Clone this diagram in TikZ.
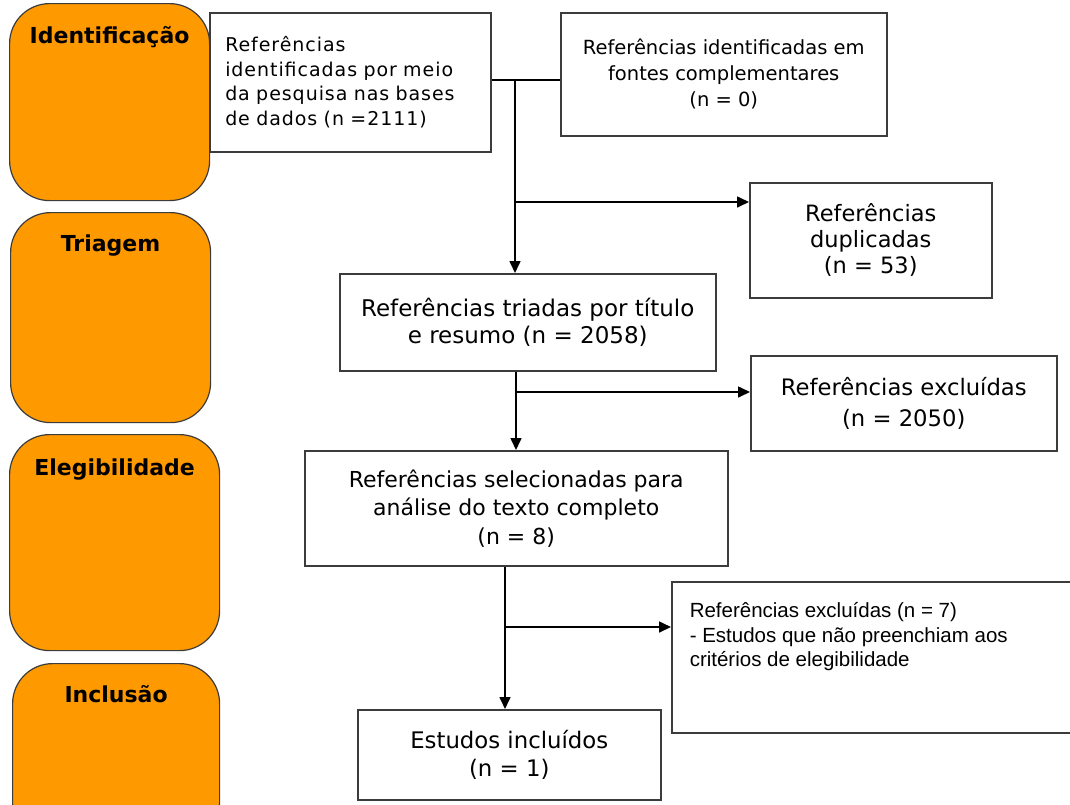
\documentclass[tikz,border=0pt]{standalone}
\usepackage{fontspec}
\setmainfont{DejaVu Sans}
\newfontfamily\spacedfont[LetterSpace=5]{DejaVu Sans}
\newfontfamily\arialfont{Liberation Sans}
\usetikzlibrary{positioning,arrows.meta}
\definecolor{phaseorange}{RGB}{255,153,0}
\definecolor{edgegray}{RGB}{60,60,60}

\begin{document}
\begin{tikzpicture}[x=1pt, y=-1pt,
    phase/.style={
        rectangle,
        rounded corners=40pt,
        draw=edgegray, line width=1.2pt,
        fill=phaseorange,
        anchor=north west},
    phasetext/.style={
        inner sep=0pt,
        font=\fontsize{22}{26}\selectfont\bfseries},
    box/.style={
        rectangle,
        draw=edgegray, line width=1.5pt,
        fill=white,
        anchor=north west,
        align=center,
        font=\fontsize{22.7}{27}\selectfont},
    arrow/.style={
        line width=1.6pt,
        -{Triangle[length=12pt,width=11pt]}},
    line/.style={
        line width=1.6pt}
    ]

    \fill [white] (0,0) rectangle (1070,804);
    \useasboundingbox (0,0) rectangle (1070,804);

    % phases on the left
    \node (ident) [phase, minimum width=200pt, minimum height=197pt] at (9,3) {};
    \node (triag) [phase, minimum width=200pt, minimum height=210pt] at (10,212) {};
    \node (eleg) [phase, minimum width=210pt, minimum height=216pt] at (9,434) {};
    \node (incl) [phase, minimum width=207pt, minimum height=180pt] at (12,663) {};

    \node (identtext) [phasetext, below=23pt of ident.north] {Identificação};
    \node (triagtext) [phasetext, below=23pt of triag.north] {Triagem};
    \node (elegtext) [phasetext, below=25pt of eleg.north] {Elegibilidade};
    \node (incltext) [phasetext, below=22pt of incl.north] {Inclusão};

    % boxes
    \node (bases) [box, minimum width=281pt, minimum height=139pt,
        text width=250pt, align=left,
        font=\spacedfont\fontsize{19}{24.5}\selectfont] at (209,12)
        {Referências\\identificadas por meio\\da pesquisa nas bases\\de dados (n =2111)};
    \node (comp) [box, minimum width=326pt, minimum height=123pt,
        font=\fontsize{19.5}{26}\selectfont] at (560,12)
        {Referências identificadas em\\fontes complementares\\(n = 0)};
    \node (dup) [box, minimum width=242pt, minimum height=115pt,
        font=\fontsize{22.5}{26}\selectfont] at (749,182)
        {Referências\\duplicadas\\(n = 53)};
    \node (triadas) [box, minimum width=376pt, minimum height=97pt,
        font=\fontsize{23}{27}\selectfont] at (339,273)
        {Referências triadas por título\\e resumo (n = 2058)};
    \node (excl) [box, minimum width=306pt, minimum height=95pt,
        font=\fontsize{22.7}{31}\selectfont] at (750,355)
        {Referências excluídas\\(n = 2050)};
    \node (selec) [box, minimum width=423pt, minimum height=115pt,
        font=\fontsize{22}{28.5}\selectfont] at (304,450)
        {Referências selecionadas para\\análise do texto completo\\(n = 8)};
    \node (exclseven) [box, inner sep=0pt, minimum width=405pt, minimum height=151pt,
        font=\arialfont\fontsize{20.5}{24.5}\selectfont] at (671,581)
        {\parbox[c][151pt][t]{369pt}{\raggedright\vspace*{21pt}%
        Referências excluídas (n = 7)\\- Estudos que não preenchiam aos\\critérios de elegibilidade}};
    \node (inclbox) [box, minimum width=303pt, minimum height=90pt,
        font=\fontsize{22.8}{28}\selectfont] at (357,709)
        {Estudos incluídos\\(n = 1)};

    % connectors
    \coordinate (split1) at (515,80);
    \coordinate (split2) at (515,202);
    \coordinate (split3) at (516,392);
    \coordinate (split4) at (505,627);

    \draw [line] (bases.east |- split1) -- (comp.west |- split1);
    \draw [arrow] (split1) -- (split1 |- triadas.north);
    \draw [arrow] (split2) -- (split2 -| dup.west);
    \draw [arrow] (split3 |- triadas.south) -- (split3 |- selec.north);
    \draw [arrow] (split3) -- (split3 -| excl.west);
    \draw [arrow] (split4 |- selec.south) -- (split4 |- inclbox.north);
    \draw [arrow] (split4) -- (split4 -| exclseven.west);

\end{tikzpicture}
\end{document}
